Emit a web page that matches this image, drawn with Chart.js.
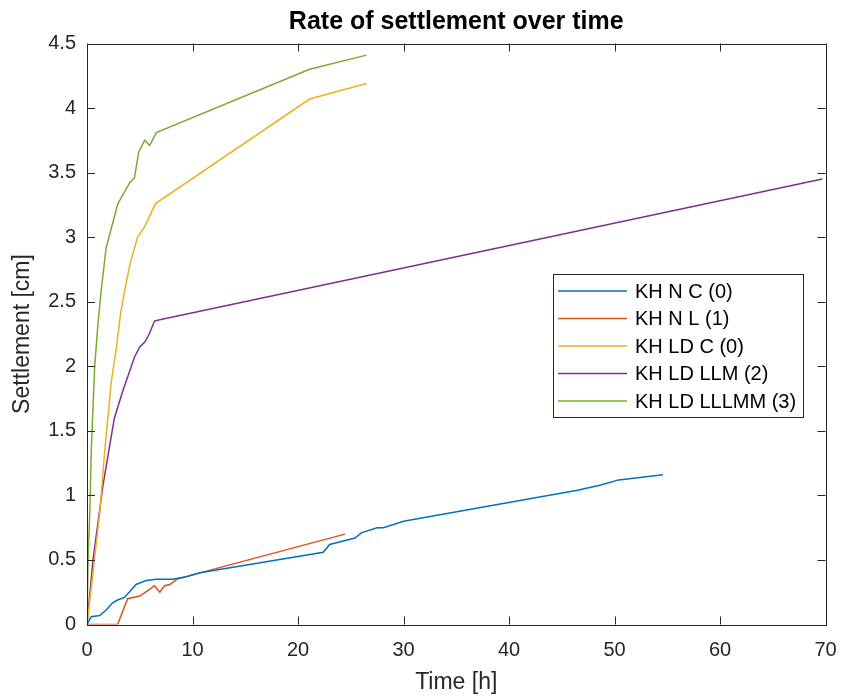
<!DOCTYPE html>
<html>
<head>
<meta charset="utf-8">
<script src="https://cdn.jsdelivr.net/npm/chart.js@4.4.1/dist/chart.umd.min.js"></script>
<style>
  html, body { margin: 0; padding: 0; background: #fff; }
  #settleChart { display: block; }
</style>
</head>
<body>
<canvas id="settleChart" width="842" height="697"></canvas>
<script>
// Series: time [h] and settlement [cm]
const timeNC = [0, 0.4, 1.2, 1.8, 2.45, 2.9, 3.55, 4.0, 4.65, 5.6, 6.55, 8.1, 9.4, 10.7, 22.4, 23.0, 25.4, 26.0, 27.5, 28.1, 30.0, 41.7, 46.5, 48.7, 50.4, 54.6];
const settleNC = [0, 0.06, 0.07, 0.11, 0.17, 0.19, 0.21, 0.25, 0.31, 0.34, 0.35, 0.35, 0.37, 0.40, 0.56, 0.62, 0.67, 0.71, 0.75, 0.75, 0.80, 0.97, 1.04, 1.08, 1.12, 1.16];

const timeNL = [0, 2.9, 3.85, 5.0, 5.9, 6.4, 6.9, 7.35, 7.85, 8.5, 10.7, 24.45];
const settleNL = [0, 0, 0.20, 0.22, 0.27, 0.30, 0.25, 0.30, 0.31, 0.35, 0.40, 0.70];

const timeLDC = [0, 0.6, 1.2, 1.7, 2.3, 2.8, 3.2, 3.6, 4.1, 4.8, 5.45, 6.5, 21.1, 26.5];
const settleLDC = [0, 0.42, 0.86, 1.36, 1.88, 2.15, 2.42, 2.6, 2.8, 3.0, 3.08, 3.26, 4.07, 4.19];

const timeLLM = [0, 0.57, 1.5, 2.45, 2.6, 3.4, 4.5, 5.0, 5.5, 5.9, 6.4, 6.9, 69.7];
const settleLLM = [0, 0.5, 1.07, 1.53, 1.6, 1.81, 2.07, 2.15, 2.19, 2.25, 2.35, 2.36, 3.45];

const timeLLLMM = [0, 0.1, 0.26, 0.42, 0.73, 1.04, 1.36, 1.82, 2.93, 4.04, 4.5, 4.9, 5.46, 5.94, 6.57, 21.1, 26.5];
const settleLLLMM = [0, 0.5, 0.86, 1.38, 2.0, 2.33, 2.6, 2.92, 3.26, 3.42, 3.46, 3.66, 3.75, 3.71, 3.81, 4.30, 4.41];

const seriesNames = ['KH N C (0)', 'KH N L (1)', 'KH LD C (0)', 'KH LD LLM (2)', 'KH LD LLLMM (3)'];
const seriesColors = ['#0072BD', '#D95319', '#EDB120', '#7E2F8E', '#77AC30'];

const xTicks = [0, 10, 20, 30, 40, 50, 60, 70];
const yTicks = [0, 0.5, 1, 1.5, 2, 2.5, 3, 3.5, 4, 4.5];

const FONT = '"Liberation Sans", Arial, Helvetica, sans-serif';
const AXIS_COLOR = '#262626';

function toPoints(xs, ys) {
  return xs.map((x, i) => ({ x: x, y: ys[i] }));
}

const allSeries = [
  toPoints(timeNC, settleNC),
  toPoints(timeNL, settleNL),
  toPoints(timeLDC, settleLDC),
  toPoints(timeLLM, settleLLM),
  toPoints(timeLLLMM, settleLLLMM)
];

// MATLAB style box, inward ticks, title and legend
const matlabFrame = {
  id: 'matlabFrame',
  afterDraw(chart) {
    const { ctx, chartArea: a, scales: { x, y } } = chart;
    ctx.save();
    ctx.strokeStyle = AXIS_COLOR;
    ctx.lineWidth = 1;
    ctx.strokeRect(Math.round(a.left) + 0.5, Math.round(a.top) + 0.5,
      Math.round(a.right - a.left), Math.round(a.bottom - a.top));

    const tl = 8;
    ctx.beginPath();
    x.ticks.forEach(t => {
      const px = Math.round(x.getPixelForValue(t.value)) + 0.5;
      ctx.moveTo(px, a.bottom); ctx.lineTo(px, a.bottom - tl);
      ctx.moveTo(px, a.top); ctx.lineTo(px, a.top + tl);
    });
    y.ticks.forEach(t => {
      const py = Math.round(y.getPixelForValue(t.value)) + 0.5;
      ctx.moveTo(a.left, py); ctx.lineTo(a.left + tl, py);
      ctx.moveTo(a.right, py); ctx.lineTo(a.right - tl, py);
    });
    ctx.stroke();

    // title
    ctx.fillStyle = '#000';
    ctx.font = 'bold 25px ' + FONT;
    ctx.textAlign = 'center';
    ctx.textBaseline = 'middle';
    ctx.fillText('Rate of settlement over time', (a.left + a.right) / 2, 22);

    // legend
    const lx = 553, ly = 274, lw = 250, lh = 143;
    ctx.fillStyle = '#fff';
    ctx.fillRect(lx, ly, lw, lh);
    ctx.strokeStyle = AXIS_COLOR;
    ctx.strokeRect(lx + 0.5, ly + 0.5, lw, lh);
    ctx.font = '20px ' + FONT;
    ctx.textAlign = 'left';
    seriesNames.forEach((name, i) => {
      const ry = 291 + i * 27.5;
      ctx.strokeStyle = seriesColors[i];
      ctx.lineWidth = 1.5;
      ctx.beginPath();
      ctx.moveTo(558, ry); ctx.lineTo(627, ry);
      ctx.stroke();
      ctx.fillStyle = '#000';
      ctx.fillText(name, 635, ry + 1);
    });
    ctx.restore();
  }
};

new Chart(document.getElementById('settleChart'), {
  type: 'scatter',
  data: {
    datasets: allSeries.map((pts, i) => ({
      label: seriesNames[i],
      data: pts,
      showLine: true,
      borderColor: seriesColors[i],
      backgroundColor: seriesColors[i],
      borderWidth: 1.5,
      pointRadius: 0,
      tension: 0
    }))
  },
  options: {
    responsive: false,
    animation: false,
    layout: { padding: { top: 43.5, right: 16.5, left: 0, bottom: 0 } },
    plugins: {
      legend: { display: false },
      title: { display: false },
      tooltip: { enabled: false }
    },
    scales: {
      x: {
        type: 'linear',
        min: 0,
        max: 70,
        afterBuildTicks: s => { s.ticks = xTicks.map(v => ({ value: v })); },
        afterFit: s => { s.height = 72.5; s.paddingLeft = 0; s.paddingRight = 0; },
        grid: { display: false, drawTicks: false },
        border: { display: false },
        ticks: {
          color: AXIS_COLOR,
          font: { family: FONT, size: 20 },
          padding: 14,
          maxRotation: 0,
          callback: v => String(v)
        },
        title: {
          display: true,
          text: 'Time [h]',
          color: AXIS_COLOR,
          font: { family: FONT, size: 23 },
          padding: { top: 0, bottom: 1 }
        }
      },
      y: {
        type: 'linear',
        min: 0,
        max: 4.5,
        afterBuildTicks: s => { s.ticks = yTicks.map(v => ({ value: v })); },
        afterFit: s => { s.width = 87; },
        grid: { display: false, drawTicks: false },
        border: { display: false },
        ticks: {
          color: AXIS_COLOR,
          font: { family: FONT, size: 20 },
          padding: 11,
          callback: v => String(v)
        },
        title: {
          display: true,
          text: 'Settlement [cm]',
          color: AXIS_COLOR,
          font: { family: FONT, size: 23 },
          padding: { top: 9, bottom: 0 }
        }
      }
    }
  },
  plugins: [matlabFrame]
});
</script>
</body>
</html>
